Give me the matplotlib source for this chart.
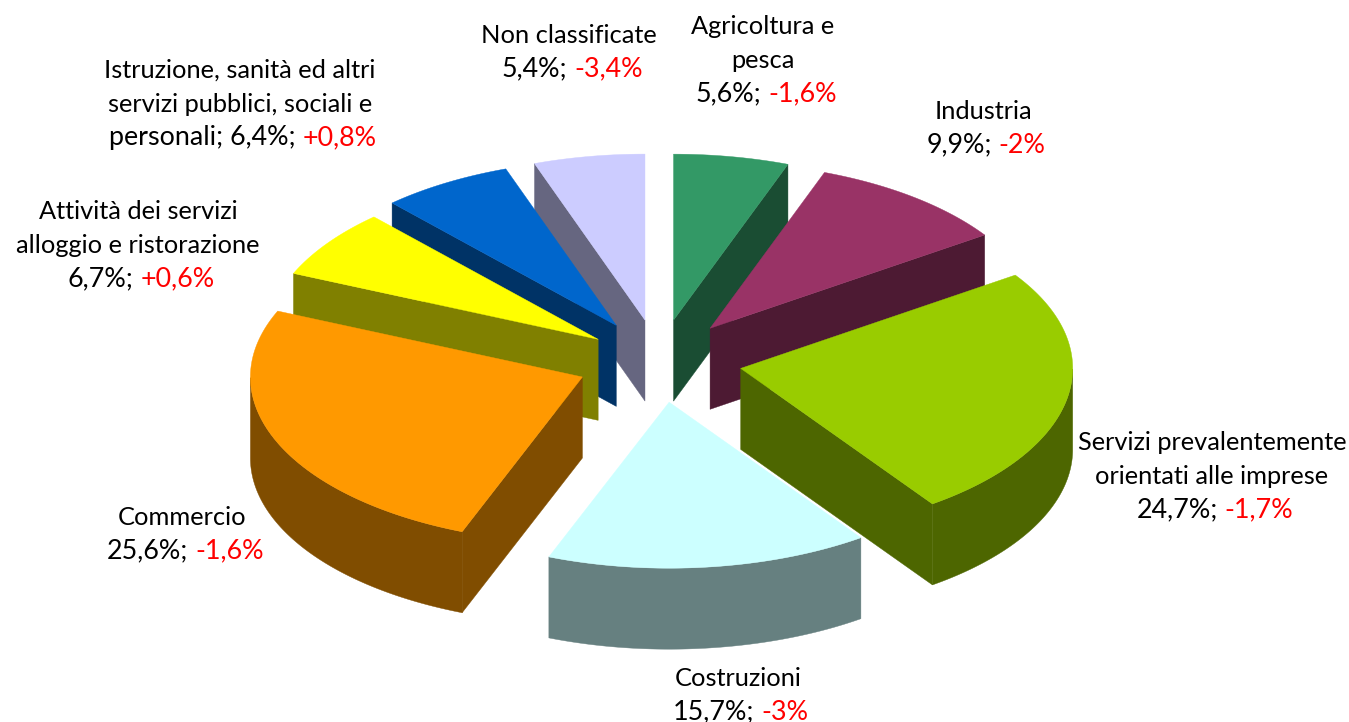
import numpy as np
import matplotlib
matplotlib.use("Agg")
import matplotlib.pyplot as plt
from matplotlib.patches import Polygon

# ---- data (clockwise from 12 o'clock) ----
names = [["Agricoltura e", "pesca"],
         ["Industria"],
         ["Servizi prevalentemente", "orientati alle imprese"],
         ["Costruzioni"],
         ["Commercio"],
         ["Attività dei servizi", "alloggio e ristorazione"],
         ["Istruzione, sanità ed altri", "servizi pubblici, sociali e"],
         ["Non classificate"]]
shares = [5.6, 9.9, 24.7, 15.7, 25.6, 6.7, 6.4, 5.4]
share_txt = ["5,6%", "9,9%", "24,7%", "15,7%", "25,6%", "6,7%", "6,4%", "5,4%"]
delta_txt = ["-1,6%", "-2%", "-1,7%", "-3%", "-1,6%", "+0,6%", "+0,8%", "-3,4%"]
top_colors = ["#339966", "#993366", "#99CC00", "#CCFFFF", "#FF9900", "#FFFF00", "#0066CC", "#CCCCFF"]
side_colors = ["#1A4D33", "#4D1A33", "#4D6600", "#668080", "#804D00", "#808000", "#003366", "#666680"]

# ---- layout ----
label_x = [763, 983, 1212, 738, 182, 138, 240, 569]
label_y = [25, 110, 441, 677, 516, 210, 69, 34]
explode = [1, 1, 1, 1, 1, 0.9, 1, 1]
LINE = 33.6
CX, CY = 659, 361
RX, RY = 332, 166
EX, EY = 83, 41.5
DEPTH = 81
FS = 18.3
FS_VAL = 19.4
GAP = 7
VAL_SHIFT = 3
FONT = "Lato"

fig = plt.figure(figsize=(13.49, 7.22), dpi=100)
ax = fig.add_axes([0, 0, 1, 1])
ax.set_xlim(0, 1349)
ax.set_ylim(722, 0)
ax.axis("off")

total = sum(shares)
edges = np.concatenate([[0], np.cumsum(shares)]) / total * 2 * np.pi
mids = (edges[:-1] + edges[1:]) / 2


def draw_wedge(i):
    a0, a1 = edges[i], edges[i + 1]
    ox = CX + explode[i] * EX * np.sin(mids[i])
    oy = CY - explode[i] * EY * np.cos(mids[i])
    t = np.linspace(a0, a1, 200)
    arc = np.column_stack([ox + RX * np.sin(t), oy - RY * np.cos(t)])
    down = np.array([0, DEPTH])
    apex = np.array([ox, oy])
    kw = dict(facecolor=side_colors[i], edgecolor=side_colors[i], linewidth=0.3)
    # cut faces that look towards the viewer
    for a, visible in ((a0, np.sin(a0) < -1e-9), (a1, np.sin(a1) > 1e-9)):
        if visible:
            p = np.array([ox + RX * np.sin(a), oy - RY * np.cos(a)])
            ax.add_patch(Polygon([apex, p, p + down, apex + down], closed=True, **kw))
    # outer wall, only the part facing the viewer
    mask = np.cos(t) <= 0
    if mask.any():
        w = arc[mask]
        ax.add_patch(Polygon(np.vstack([w, (w + down)[::-1]]), closed=True, **kw))
    # top
    ax.add_patch(Polygon(np.vstack([apex, arc]), closed=True, facecolor=top_colors[i],
                         edgecolor=top_colors[i], linewidth=0.3))


for i in np.argsort(-np.cos(mids)):
    draw_wedge(i)

fig.canvas.draw()
rend = fig.canvas.get_renderer()


def label(i):
    x, y = label_x[i], label_y[i] + 9
    lines = names[i]
    black = share_txt[i] + ";"
    if i == 6:
        black = "personali; " + black
    for k, s in enumerate(lines):
        ax.text(x, y + k * LINE, s, ha="center", va="baseline", fontsize=FS, family=FONT, color="black")
    yy = y + len(lines) * LINE
    t1 = ax.text(0, yy, black, ha="left", va="baseline", fontsize=FS_VAL, family=FONT, color="black")
    t2 = ax.text(0, yy, delta_txt[i], ha="left", va="baseline", fontsize=FS_VAL, family=FONT, color="#FF0000")
    w1 = t1.get_window_extent(rend).width + GAP
    w2 = t2.get_window_extent(rend).width
    start = x - (w1 + w2) / 2 + VAL_SHIFT
    t1.set_x(start)
    t2.set_x(start + w1)


for i in range(len(shares)):
    label(i)

fig.savefig("out.png", dpi=100, facecolor="white")
